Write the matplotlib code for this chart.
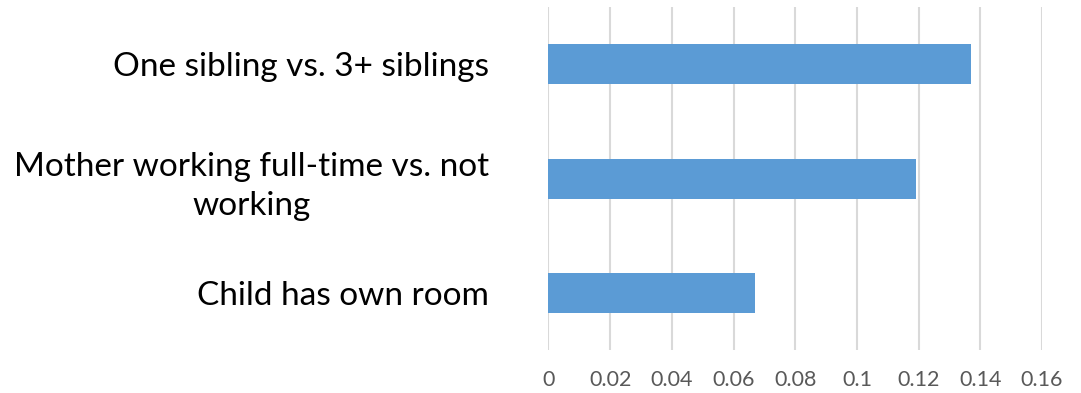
import numpy as np
import matplotlib.pyplot as plt
from matplotlib.ticker import FixedLocator

plt.rcParams['font.family'] = ['Lato', 'DejaVu Sans']

# categories listed bottom to top
categories = ['Child has own room',
              'Mother working full-time vs. not\nworking',
              'One sibling vs. 3+ siblings']
values = [0.067, 0.119, 0.137]
xticks = [0, 0.02, 0.04, 0.06, 0.08, 0.1, 0.12, 0.14, 0.16]
xtick_labels = ['0', '0.02', '0.04', '0.06', '0.08', '0.1', '0.12', '0.14', '0.16']

fig = plt.figure(figsize=(10.81, 3.93), dpi=100)
ax = fig.add_axes([0.5074, 0.109, 0.4565, 0.873])

pos = np.arange(len(categories))
ax.barh(pos, values, height=0.35, color='#5B9BD5', zorder=3)

ax.set_xlim(0, 0.16)
ax.set_ylim(-0.5, len(categories) - 0.5)
ax.xaxis.set_major_locator(FixedLocator(xticks))
ax.set_xticklabels(xtick_labels, fontsize=15.5, color='#595959')
ax.set_yticks(pos)
ax.set_yticklabels(categories, fontsize=24, color='black',
                   ha='right', multialignment='center', linespacing=1.4)

ax.grid(axis='x', color='#d9d9d9', linewidth=1.5, zorder=0)
ax.tick_params(axis='x', length=0, pad=14)
ax.tick_params(axis='y', length=0, pad=43)
for s in ax.spines.values():
    s.set_visible(False)

fig.savefig('out.png', dpi=100)
